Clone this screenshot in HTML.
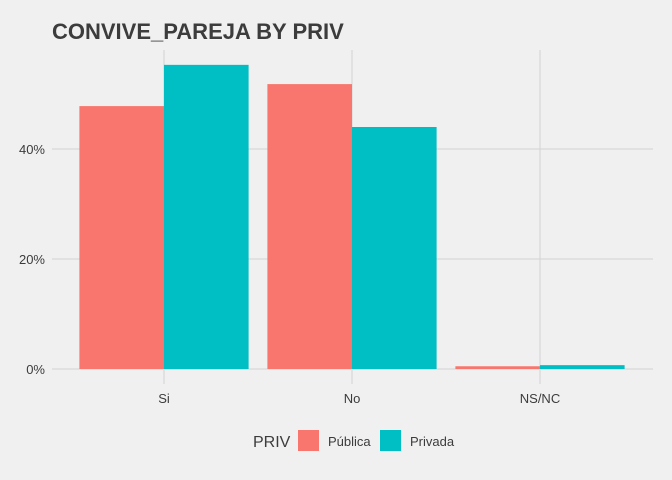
<!DOCTYPE html>
<html><head><meta charset="utf-8"><style>
body{margin:0;background:#f0f0f0;}
svg{display:block;font-family:"Liberation Sans",sans-serif;}
</style></head><body>
<svg id="chart" width="672" height="480">
<rect width="672" height="480" fill="#f0f0f0"/>
<text x="52" y="39" font-size="22" font-weight="bold" fill="#3c3c3c">CONVIVE_PAREJA BY PRIV</text>
<g id="grid"></g><g id="bars"></g><g id="axes"></g>
<g>
<text x="253" y="447" font-size="16" fill="#3c3c3c">PRIV</text>
<rect x="298" y="430" width="21" height="21" fill="#f8766d"/>
<text x="328" y="446" font-size="13" fill="#3c3c3c">Pública</text>
<rect x="380" y="430" width="21" height="21" fill="#00bfc4"/>
<text x="410" y="446" font-size="13" fill="#3c3c3c">Privada</text>
</g>
</svg>
<script>
const categories=["Si","No","NS/NC"];
const publica=[47.8,51.8,0.5];
const privada=[55.3,44.0,0.7];
const yTicks=[0,20,40];
const yTickLabels=["0%","20%","40%"];
const NS="http://www.w3.org/2000/svg";
const y=v=>369-v*5.5;
const step=188, x0=164;
const xc=i=>x0+i*step;
const bw=step*0.9/2;
function mk(tag,attrs,parent){const e=document.createElementNS(NS,tag);for(const k in attrs)e.setAttribute(k,attrs[k]);document.getElementById(parent).appendChild(e);return e;}
yTicks.forEach((t,i)=>{
  const l=mk("line",{x1:52,x2:653,y1:y(t),y2:y(t),stroke:"#d2d2d2","stroke-width":1},"grid");
  
  
  const tx=mk("text",{x:45,y:y(t)+5,"text-anchor":"end","font-size":13,fill:"#3c3c3c"},"axes");
  tx.textContent=yTickLabels[i];
  
  
});
categories.forEach((c,i)=>{
  const l=mk("line",{x1:xc(i),x2:xc(i),y1:50,y2:384,stroke:"#d2d2d2","stroke-width":1},"grid");
  
  
  const tx=mk("text",{x:xc(i),y:403,"text-anchor":"middle","font-size":13,fill:"#3c3c3c"},"axes");
  tx.textContent=c;
  
  
  const b1=mk("rect",{x:xc(i)-bw,y:y(publica[i]),width:bw,height:y(0)-y(publica[i]),fill:"#f8766d"},"bars");
  
  
  const b2=mk("rect",{x:xc(i),y:y(privada[i]),width:bw,height:y(0)-y(privada[i]),fill:"#00bfc4"},"bars");
  
  
});
</script>
</body></html>
